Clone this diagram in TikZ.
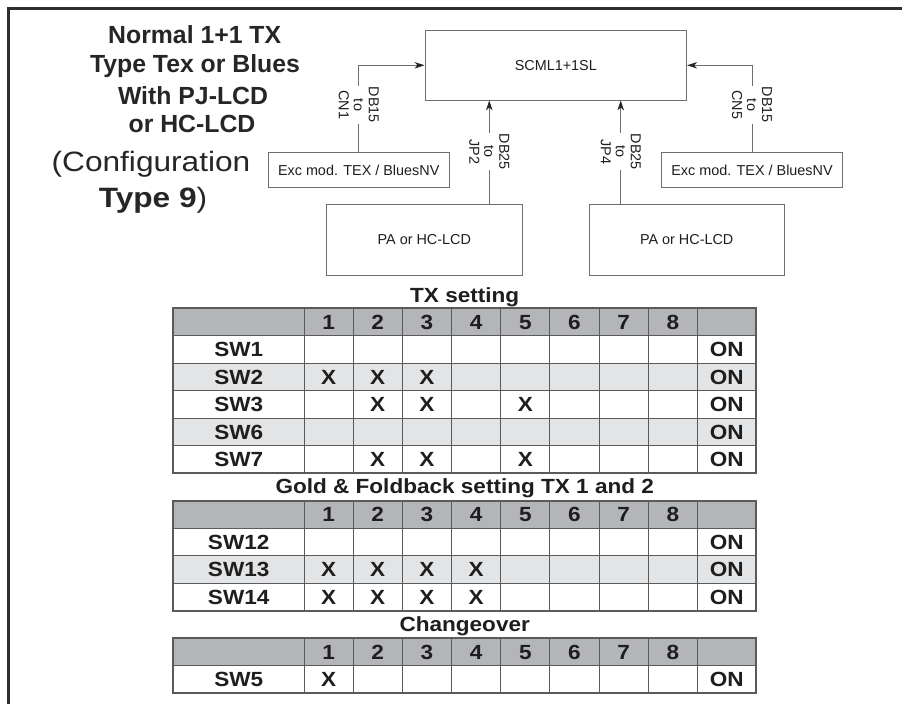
\documentclass[tikz,border=0pt]{standalone}
\usepackage{fontspec}
\setmainfont{Liberation Sans}
\newfontfamily\tabfont[FakeStretch=1.1]{Liberation Sans}
\newfontfamily\widefont[FakeStretch=1.13]{Liberation Sans}
\usetikzlibrary{arrows.meta,calc}
\definecolor{hdrgray}{HTML}{B4B5B8}
\definecolor{altgray}{HTML}{E3E4E6}
\definecolor{gridc}{HTML}{5A5A5A}
\definecolor{boxc}{HTML}{6E6E6E}
\definecolor{txt}{HTML}{1E1E1E}
\definecolor{ttlc}{HTML}{262626}
\definecolor{framec}{HTML}{2E2E2E}
\tikzset{
  blk/.style={draw=boxc, line width=0.9pt, fill=white, inner sep=0pt,
    font=\fontsize{14.4}{16}\selectfont, text=txt},
  conn/.style={draw=boxc, line width=0.9pt, -{Stealth[length=10pt,width=6.5pt,inset=3pt,color=black!85]}},
  lbl/.style={rotate=-90, fill=white, inner sep=0.6pt, align=center,
    font=\fontsize{14.4}{15}\selectfont, text=txt},
  ttl/.style={font=\fontsize{24.8}{28}\selectfont\bfseries, text=ttlc, inner sep=0pt, anchor=base},
  cfg/.style={font=\widefont\fontsize{28}{32}\selectfont, text=ttlc, inner sep=0pt, anchor=base},
  cell/.style={font=\tabfont\bfseries\fontsize{20.5}{24}\selectfont, text=txt, inner sep=0pt,
    text height=14.7pt, text depth=0pt, anchor=center},
  tabttl/.style={font=\tabfont\bfseries\fontsize{20.5}{24}\selectfont, text=txt, inner sep=0pt, anchor=base},
  gridl/.style={draw=gridc, line width=1pt},
  outerl/.style={draw=gridc, line width=1.8pt},
  framel/.style={draw=framec, line width=2.5pt},
}
\newcommand\swgrid[3]{% #1 prefix, #2 top, #3 total rows
  \fill[hdrgray] (173.3,#2) rectangle (756,{#2+27.5});
  \foreach \r in {1,...,#3}{\draw[gridl] (173.3,{#2+\r*27.5}) -- (756,{#2+\r*27.5});}
  \foreach \xx in {304,353.2,402.3,451.5,500.7,549.8,599,648.2,697.3}{\draw[gridl] (\xx,#2) -- (\xx,{#2+#3*27.5});}
  \draw[outerl] (173.3,#2) rectangle (756,{#2+#3*27.5});
  \foreach \k in {1,...,8}{\node[cell] (#1-h\k) at ({304+(\k-0.5)*49.17},{#2+13.75}) {\k};}
}
\newcommand\swrow[4]{% #1 prefix, #2 top, #3 row idx, #4 label
  \node[cell] (#1-l#3) at (238.7,{#2+(#3+0.5)*27.5}) {#4};
  \node[cell] (#1-on#3) at (726.7,{#2+(#3+0.5)*27.5}) {ON};
}
\newcommand\swx[4]{% #1 prefix, #2 top, #3 idx, #4 list
  \foreach \m in {#4}{\node[cell] (#1-x#3-\m) at ({304+(\m-0.5)*49.17},{#2+(#3+0.5)*27.5}) {X};}
}
\newcommand\swalt[2]{% #1 top, #2 idx
  \fill[altgray] (173.3,{#1+#2*27.5}) rectangle (756,{#1+(#2+1)*27.5});
}
\begin{document}
\begin{tikzpicture}[x=1pt,y=-1pt]
\useasboundingbox (0,0) rectangle (902,704);
\fill[white] (0,0) rectangle (902,704);
% frame
\draw[framel] (8.5,704) -- (8.5,8.5) -- (902,8.5);
% title
\node[ttl] (t1) at (194.7,43.3) {Normal 1+1 TX};
\node[ttl] (t2) at (195,72.5) {Type Tex or Blues};
\node[ttl] (t3) at (193,104.5) {With PJ-LCD};
\node[ttl] (t4) at (192,132.7) {or HC-LCD};
\node[cfg] (t5) at (151,171.7) {(Configuration};
\node[cfg] (t6) at (153,207) {\bfseries Type 9\mdseries)};
% blocks
\node[blk, minimum width=261.7pt, minimum height=69.3pt] (scml) at (555.8,65.3) {SCML1+1SL};
\node[blk, minimum width=180.7pt, minimum height=34.6pt] (lexc) at (358.7,170) {Exc mod. TEX / BluesNV};
\node[blk, minimum width=180.6pt, minimum height=34.6pt] (rexc) at (752,170) {Exc mod. TEX / BluesNV};
\node[blk, minimum width=196.7pt, minimum height=70.7pt] (lpa) at (424.3,239.7) {PA or HC-LCD};
\node[blk, minimum width=195.3pt, minimum height=70.7pt] (rpa) at (686.7,239.7) {PA or HC-LCD};
% connectors
\coordinate (j2) at (489.3,0);
\coordinate (j4) at (620.7,0);
\draw[conn] (lexc.north) |- (scml.west);
\draw[conn] (rexc.north) |- (scml.east);
\draw[conn] (j2 |- lpa.north) -- (j2 |- scml.south);
\draw[conn] (j4 |- rpa.north) -- (j4 |- scml.south);
\node[lbl] (l1) at (358.7,105) {DB15\\to\\CN1};
\node[lbl] (l2) at (752,105) {DB15\\to\\CN5};
\node[lbl] (l3) at (489.3,151.7) {DB25\\to\\JP2};
\node[lbl] (l4) at (620.7,151.7) {DB25\\to\\JP4};
% table 1
\node[tabttl] (tt1) at (464.7,302.5) {TX setting};
\swalt{308}{2}
\swalt{308}{4}
\swgrid{a}{308}{6}
\swrow{a}{308}{1}{SW1}
\swrow{a}{308}{2}{SW2}
\swrow{a}{308}{3}{SW3}
\swrow{a}{308}{4}{SW6}
\swrow{a}{308}{5}{SW7}
\swx{a}{308}{2}{1,2,3}
\swx{a}{308}{3}{2,3,5}
\swx{a}{308}{5}{2,3,5}
% table 2
\node[tabttl] (tt2) at (464.7,493.5) {Gold \& Foldback setting TX 1 and 2};
\swalt{500.7}{2}
\swgrid{b}{500.7}{4}
\swrow{b}{500.7}{1}{SW12}
\swrow{b}{500.7}{2}{SW13}
\swrow{b}{500.7}{3}{SW14}
\swx{b}{500.7}{2}{1,2,3,4}
\swx{b}{500.7}{3}{1,2,3,4}
% table 3
\node[tabttl] (tt3) at (464.7,631.7) {Changeover};
\swgrid{c}{638.3}{2}
\swrow{c}{638.3}{1}{SW5}
\swx{c}{638.3}{1}{1}
\end{tikzpicture}
\end{document}
